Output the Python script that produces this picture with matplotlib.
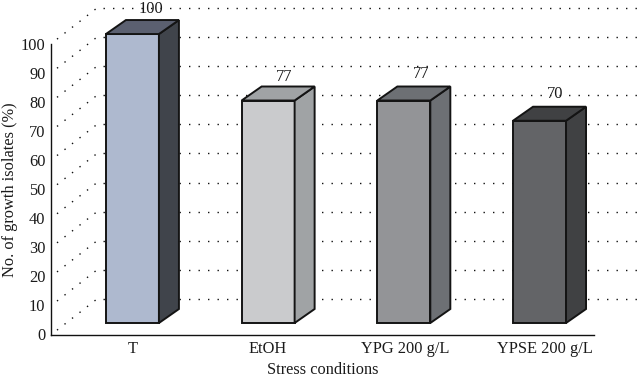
import matplotlib
matplotlib.use("Agg")
import matplotlib.pyplot as plt
from matplotlib.patches import Polygon, Rectangle
from matplotlib.transforms import ScaledTranslation

categories = ["T", "EtOH", "YPG 200 g/L", "YPSE 200 g/L"]
values = [100, 77, 77, 70]
yticks = [0, 10, 20, 30, 40, 50, 60, 70, 80, 90, 100]
front_colors = ["#aeb9cf", "#cacbcd", "#939497", "#636467"]
side_colors = ["#40444b", "#a0a3a5", "#6d7074", "#404143"]
top_colors = ["#5b6070", "#a0a3a5", "#6d7074", "#404143"]

W, H = 639, 377
x_left, x_right = -0.6, 3.733
px_x = (x_right - x_left) / (639 - 51)
px_y = 100 / 291.0

# fake 3d offsets, in data units
bar_w = 53 * px_x
dep_x = 20 * px_x
dep_y = 14 * px_y
floor = 3.95
scale = 0.993
wall_x0 = x_left + 6 * px_x
wall_x1 = x_left + 46 * px_x
wall_dy0 = 1.5
wall_dy1 = 12.2

plt.rcParams["font.family"] = ["Liberation Serif", "DejaVu Serif"]

fig = plt.figure(figsize=(W / 100, H / 100), dpi=100)
ax = fig.add_axes([51 / W, 1 - 334.5 / H, (639 - 51) / W, 291 / H])
ax.set_xlim(x_left, x_right)
ax.set_ylim(0, 100)
ax.patch.set_alpha(0)

dots = dict(color="#111111", lw=1.0, linestyle=(0, (1, 5.84)), clip_on=False, zorder=1)
for v in yticks:
    ax.plot([wall_x0, wall_x1], [v + wall_dy0, v + wall_dy1], **dots)
    ax.plot([wall_x1 + 6 * px_x, x_right], [v + wall_dy1, v + wall_dy1], **dots)

edge = dict(edgecolor="#141414", linewidth=1.4, joinstyle="miter", clip_on=False, zorder=3)
label_off = [(18.5, -11.5), (16, -10), (17, -12.5), (15.5, -13)]
for i, v in enumerate(values):
    x0 = i - bar_w / 2
    x1 = i + bar_w / 2
    top = floor + v * scale
    ax.add_patch(Rectangle((x0, floor), bar_w, top - floor, facecolor=front_colors[i], **edge))
    ax.add_patch(Polygon([(x1, floor), (x1 + dep_x, floor + dep_y), (x1 + dep_x, top + dep_y), (x1, top)],
                         facecolor=side_colors[i], **edge))
    ax.add_patch(Polygon([(x0, top), (x1, top), (x1 + dep_x, top + dep_y), (x0 + dep_x, top + dep_y)],
                         facecolor=top_colors[i], **edge))
    dx, dy = label_off[i]
    ax.text(i + dx * px_x, top + dep_y - dy * px_y, str(v), fontsize=11.8, ha="center", va="center",
            color="#1a1a1a", zorder=4)

for s in ["top", "right"]:
    ax.spines[s].set_visible(False)
for s in ["left", "bottom"]:
    ax.spines[s].set_linewidth(1.0)
    ax.spines[s].set_color("#111111")
ax.spines["bottom"].set_bounds(x_left, x_left + 543 * px_x)

ax.set_yticks(yticks)
ax.set_xticks(range(len(categories)))
ax.set_xticklabels(categories)
ax.tick_params(length=0, labelsize=11.8, labelcolor="#1a1a1a")
ax.tick_params(axis="y", pad=4)
ax.tick_params(axis="x", pad=5)

# category labels are not quite centred under the bars
label_shift = [0, 0, 1, 5]
for lab, shift in zip(ax.get_xticklabels(), label_shift):
    lab.set_transform(lab.get_transform() + ScaledTranslation(shift / 100, 0, fig.dpi_scale_trans))

fig.text(323 / W, 1 - 370 / H, "Stress conditions", fontsize=11.8, ha="center", va="center", color="#1a1a1a")
fig.text(10.5 / W, 1 - 189.5 / H, "No. of growth isolates (%)", fontsize=11.8, rotation=90,
         ha="center", va="center", color="#1a1a1a")

fig.savefig("out.png", dpi=100)
